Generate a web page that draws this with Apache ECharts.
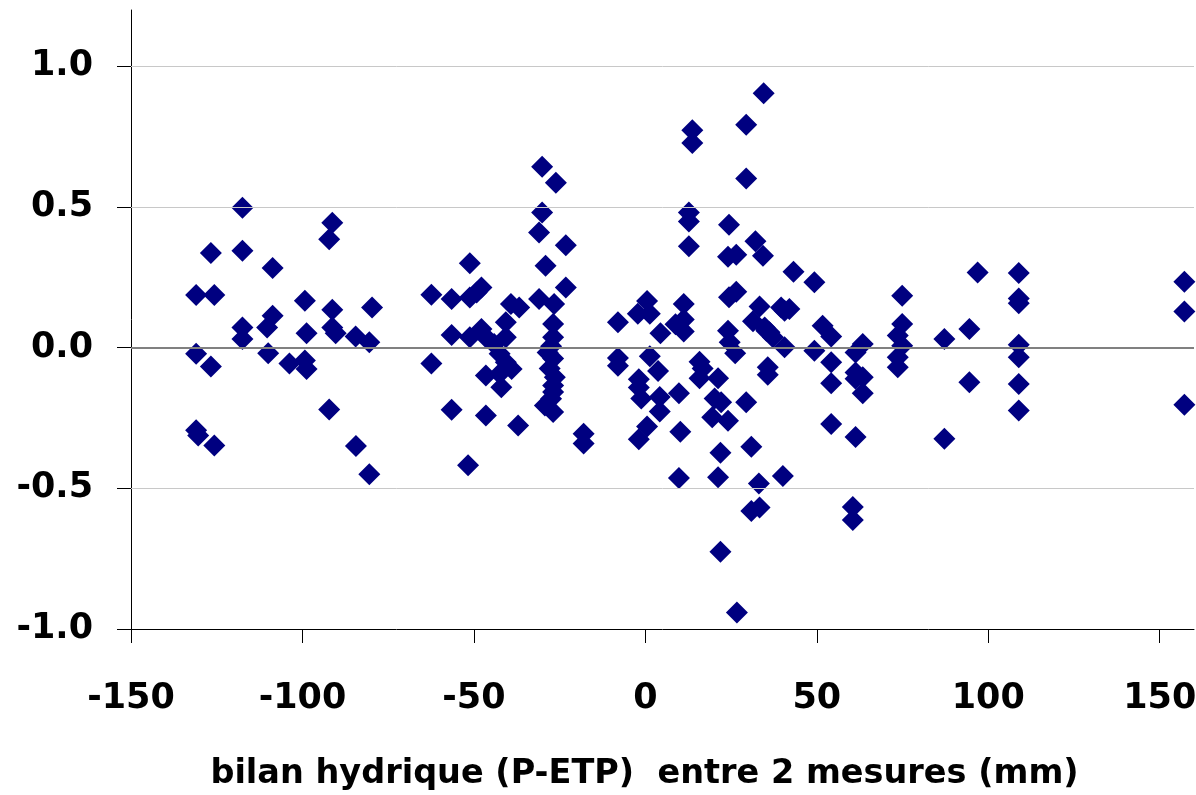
<!DOCTYPE html>
<html>
<head>
<meta charset="utf-8">
<script src="https://cdn.jsdelivr.net/npm/echarts@6/dist/echarts.min.js"></script>
<style>
  html, body { margin: 0; padding: 0; background: #fff; }
  #chart { width: 1196px; height: 795px; }
</style>
</head>
<body>
<div id="chart"></div>
<script>
// bilan hydrique (P-ETP) entre 2 mesures (mm)
var bilanX = [
  -131.0, -125.7, -126.7, -117.5, -117.5, -117.5, -117.5, -108.7, -108.7, -110.3,
  -110.0, -131.0, -126.7, -131.0, -130.4, -125.7, -103.8, -99.3, -98.8, -99.3,
  -98.8, -91.3, -92.2, -91.3, -91.3, -90.3, -92.2, -84.5, -80.5, -79.7,
  -84.4, -80.5,
  -62.4, -62.4, -56.5, -56.5, -56.5, -51.2, -51.2, -51.2, -51.7, -47.8,
  -49.2, -47.8, -46.5, -46.5, -46.5, -44.1, -42.5, -42.5, -42.0, -40.7,
  -40.7, -40.7, -39.0, -39.2, -36.8, -37.1, -30.1, -26.1, -30.1, -31.0,
  -29.1, -23.2, -23.2, -31.0, -26.6,
  -26.9, -26.9, -28.5, -26.9, -27.9, -26.4, -26.9, -26.9, -29.3, -26.9,
  -27.5, -27.5, -18.0, -18.0,
  -8.0, -8.0, -8.0, 0.5, -2.2, 1.3, 4.4, 1.3, 3.7, -1.9,
  -1.9, -1.2, 4.2, 4.2, 0.5, -1.9, 11.2, 11.2, 8.8, 11.2,
  9.8, 10.2, 9.8, 13.7, 13.7, 12.7, 12.7, 12.7, 15.8, 15.8,
  16.7, 21.2, 20.2, 19.5, 22.1, 24.1, 21.9, 21.2, 21.9, 26.7,
  24.4, 24.1, 26.5, 24.4, 26.5, 24.1, 24.6, 26.2, 29.4, 29.4,
  34.5, 32.1, 34.3, 29.4, 30.9, 33.1, 30.9, 33.3, 33.3, 31.4,
  34.8, 36.2, 35.3, 37.2, 40.6, 39.6, 42.0, 35.7, 35.7, 40.1,
  43.2, 49.3, 40.6, 49.3, 51.7, 54.2, 54.2, 54.2, 54.2,
  63.4, 61.3, 61.3, 63.4, 61.3, 63.4, 61.3, 60.5, 60.5,
  74.9, 74.9, 73.6, 74.9, 73.6, 73.6, 87.2, 87.2, 96.9, 94.5, 94.5,
  108.9, 108.9, 108.9, 108.9, 108.9, 108.9, 108.9,
  157.2, 157.2, 157.2
];
// écart mesuré
var ecartY = [
  0.187, 0.187, 0.336, 0.497, 0.344, 0.072, 0.031, 0.283, 0.113, 0.072,
  -0.020, -0.022, -0.067, -0.294, -0.312, -0.348, -0.056, 0.167, 0.051, -0.046,
  -0.076, 0.444, 0.385, 0.135, 0.072, 0.051, -0.220, 0.040, 0.019, 0.143,
  -0.350, -0.450,
  0.188, -0.056, 0.173, 0.045, -0.221, 0.300, 0.178, 0.037, -0.418, 0.214,
  0.196, 0.066, 0.037, -0.099, -0.241, 0.013, -0.022, -0.093, -0.141, 0.090,
  0.037, -0.052, -0.076, 0.155, 0.143, -0.277, 0.643, 0.586, 0.480, 0.409,
  0.291, 0.364, 0.214, 0.173, 0.155,
  0.084, 0.037, -0.017, -0.039, -0.074, -0.105, -0.135, -0.158, -0.206, -0.229,
  0.005, -0.182, -0.306, -0.341,
  0.090, -0.037, -0.064, 0.166, 0.120, 0.120, 0.051, -0.031, -0.083, -0.112,
  -0.142, -0.181, -0.175, -0.227, -0.280, -0.326, 0.155, 0.100, 0.083, 0.057,
  -0.162, -0.299, -0.463, 0.773, 0.727, 0.480, 0.448, 0.360, -0.050, -0.109,
  -0.074, -0.109, -0.181, -0.247, -0.194, -0.260, -0.374, -0.461, -0.725, -0.941,
  0.437, 0.323, 0.330, 0.179, 0.199, 0.060, 0.019, -0.020, 0.792, 0.601,
  0.904, 0.378, 0.327, -0.194, -0.352, -0.483, -0.581, -0.568, 0.146, 0.094,
  0.072, 0.055, 0.060, 0.037, 0.001, 0.143, 0.137, -0.070, -0.096, -0.456,
  0.270, 0.232, 0.131, -0.011, 0.078, 0.040, -0.052, -0.127, -0.271,
  0.013, -0.017, -0.088, -0.105, -0.111, -0.162, -0.318, -0.566, -0.613,
  0.184, 0.084, 0.043, 0.007, -0.034, -0.070, 0.031, -0.324, 0.267, 0.066, -0.123,
  0.265, 0.175, 0.158, 0.010, -0.034, -0.129, -0.223,
  0.234, 0.128, -0.203
];
var xTicks = [-150, -100, -50, 0, 50, 100, 150];
var yTicks = [-1.0, -0.5, 0.0, 0.5, 1.0];
var yGrid = [-0.5, 0.5, 1.0];

var points = [];
for (var i = 0; i < bilanX.length; i++) {
    points.push([bilanX[i], ecartY[i]]);
}

// lignes horizontales : grille claire + ligne du zéro plus foncée
var hLines = [];
for (var j = 0; j < yGrid.length; j++) {
    hLines.push({ yAxis: yGrid[j], lineStyle: { color: '#c8c8c8', width: 1, type: 'solid' } });
}
hLines.push({ yAxis: 0, lineStyle: { color: '#808080', width: 2, type: 'solid' } });

var font = 'DejaVu Sans';
var chart = echarts.init(document.getElementById('chart'));

var option = {
    animation: false,
    grid: { left: 131, right: 2, top: 10, bottom: 166, outerBoundsMode: 'none' },
    xAxis: {
        type: 'value',
        min: -150,
        max: 160,
        interval: 50,
        name: 'bilan hydrique (P-ETP)  entre 2 mesures (mm)',
        nameLocation: 'middle',
        nameGap: 128,
        nameTextStyle: {
            fontFamily: font, fontWeight: 'bold', fontSize: 33.5, color: '#000',
            padding: [0, 36, 0, 0]
        },
        axisLine: { onZero: false, lineStyle: { color: '#000', width: 1 } },
        axisTick: { inside: false, length: 14, customValues: xTicks, lineStyle: { color: '#000' } },
        axisLabel: {
            margin: 52,
            customValues: xTicks,
            fontFamily: font, fontWeight: 'bold', fontSize: 35, color: '#000'
        },
        splitLine: { show: false }
    },
    yAxis: {
        type: 'value',
        min: -1.0,
        max: 1.2,
        interval: 0.5,
        axisLine: { show: true, onZero: false, lineStyle: { color: '#000', width: 1 } },
        axisTick: { show: true, inside: false, length: 14, customValues: yTicks, lineStyle: { color: '#000' } },
        axisLabel: {
            margin: 38,
            customValues: yTicks,
            fontFamily: font, fontWeight: 'bold', fontSize: 35, color: '#000',
            formatter: function (v) { return Number(v).toFixed(1); }
        },
        splitLine: { show: false }
    },
    series: [{
        type: 'scatter',
        symbol: 'diamond',
        symbolSize: 22,
        itemStyle: { color: '#000080', opacity: 1 },
        data: points,
        markLine: {
            silent: true,
            symbol: 'none',
            label: { show: false },
            data: hLines
        }
    }]
};
chart.setOption(option);
</script>
</body>
</html>
